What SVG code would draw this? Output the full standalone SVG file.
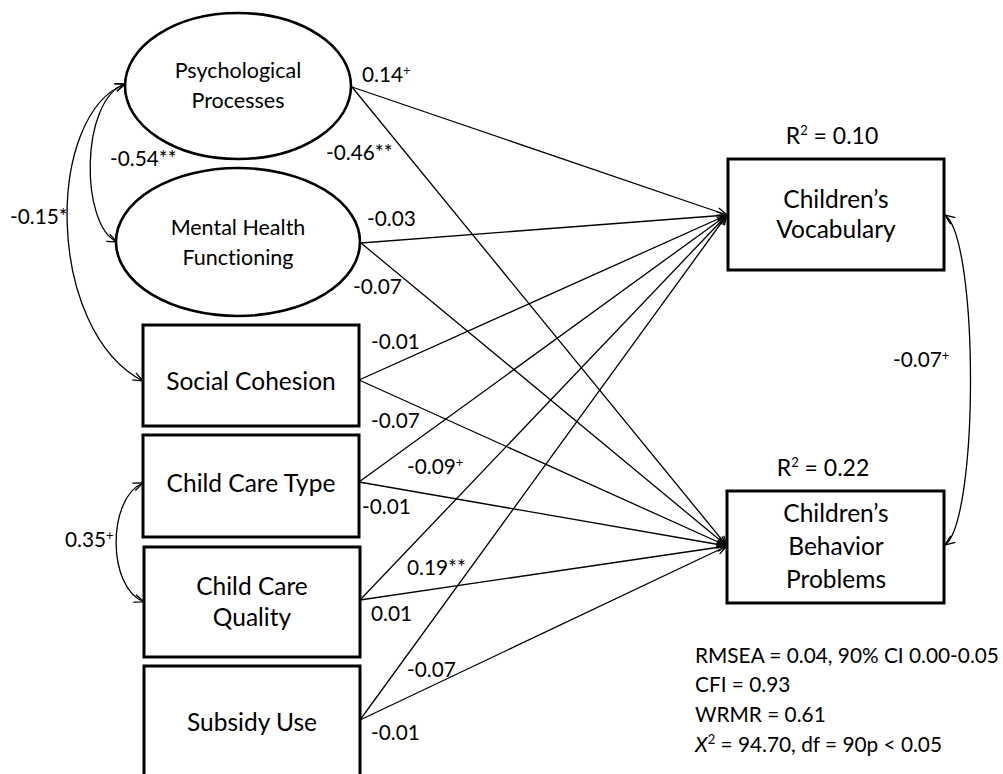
<svg xmlns="http://www.w3.org/2000/svg" width="1003" height="774" viewBox="0 0 1003 774">
<style>
  text { font-family: Lato, "Liberation Sans", sans-serif; fill: #000; font-variant-ligatures: none; }
  .node { fill: #fff; stroke: #000; stroke-width: 3; }
  .ell { fill: #fff; stroke: #000; stroke-width: 2.6; }
  .nt { font-size: 24.5px; text-anchor: middle; }
  .et { font-size: 21.5px; text-anchor: middle; }
  .lbl { font-size: 20.8px; }
  .fit { font-size: 20.8px; }
  .r2 { font-size: 23px; text-anchor: middle; }
  .edge { fill: none; stroke: #000; stroke-width: 1.3; marker-end: url(#arr); }
  .cov { fill: none; stroke: #000; stroke-width: 1.3; marker-start: url(#arr); marker-end: url(#arr); }
  .sup { font-size: 13px; }
</style>
<defs>
  <marker id="arr" viewBox="0 0 12 10" refX="11" refY="5" markerWidth="12" markerHeight="10" orient="auto-start-reverse" markerUnits="userSpaceOnUse">
    <path d="M1,1 L11,5 L1,9" fill="none" stroke="#000" stroke-width="1.3"/>
  </marker>
</defs>
<rect width="1003" height="774" fill="#fff"/>

<g id="connectors">
  <path class="edge" d="M352,87 L727,215"/>
  <path class="edge" d="M361,243 L727,215"/>
  <path class="edge" d="M359,380 L727,215"/>
  <path class="edge" d="M359,482 L727,215"/>
  <path class="edge" d="M360,600 L727,215"/>
  <path class="edge" d="M360,720 L727,215"/>
  <path class="edge" d="M352,87 L727,546"/>
  <path class="edge" d="M361,243 L727,546"/>
  <path class="edge" d="M359,380 L727,546"/>
  <path class="edge" d="M359,482 L727,546"/>
  <path class="edge" d="M360,600 L727,546"/>
  <path class="edge" d="M360,720 L727,546"/>
  <path class="cov" d="M125,84 C80,100 80,225 117,242"/>
  <path class="cov" d="M125,84 C45,115 45,330 143,381"/>
  <path class="cov" d="M143,483 C107,498 107,588 144,602"/>
  <path class="cov" d="M945,215 C979,240 979,520 945,545"/>
</g>

<g id="psych">
  <ellipse class="ell" cx="238" cy="86" rx="113" ry="73"/>
  <text class="et" x="238" y="78">Psychological</text>
  <text class="et" x="238" y="108">Processes</text>
</g>
<g id="mental">
  <ellipse class="ell" cx="238" cy="242" rx="122" ry="74"/>
  <text class="et" x="238" y="235">Mental Health</text>
  <text class="et" x="238" y="265">Functioning</text>
</g>
<g id="social">
  <rect class="node" x="143" y="325" width="216" height="101"/>
  <text class="nt" x="251" y="390">Social Cohesion</text>
</g>
<g id="cctype">
  <rect class="node" x="143" y="435" width="216" height="102"/>
  <text class="nt" x="251" y="492">Child Care Type</text>
</g>
<g id="ccquality">
  <rect class="node" x="144" y="547" width="216" height="110"/>
  <text class="nt" x="252" y="595">Child Care</text>
  <text class="nt" x="252" y="626">Quality</text>
</g>
<g id="subsidy">
  <rect class="node" x="144" y="666" width="216" height="120"/>
  <text class="nt" x="252" y="731">Subsidy Use</text>
</g>
<g id="vocab">
  <rect class="node" x="728" y="159" width="216" height="111"/>
  <text class="nt" x="836" y="208">Children’s</text>
  <text class="nt" x="836" y="238">Vocabulary</text>
  <text class="r2" x="832" y="144">R<tspan class="sup" dy="-9">2</tspan><tspan dy="9"> = 0.10</tspan></text>
</g>
<g id="behavior">
  <rect class="node" x="727" y="491" width="217" height="112"/>
  <text class="nt" x="836" y="522">Children’s</text>
  <text class="nt" x="836" y="555">Behavior</text>
  <text class="nt" x="836" y="588">Problems</text>
  <text class="r2" x="823" y="476">R<tspan class="sup" dy="-9">2</tspan><tspan dy="9"> = 0.22</tspan></text>
</g>

<g id="labels">
  <text class="lbl" x="362" y="82">0.14<tspan class="sup" dy="-7">+</tspan></text>
  <text class="lbl" x="326" y="160">-0.46**</text>
  <text class="lbl" x="110" y="166">-0.54**</text>
  <text class="lbl" x="10" y="224">-0.15*</text>
  <text class="lbl" x="367" y="226">-0.03</text>
  <text class="lbl" x="353" y="294">-0.07</text>
  <text class="lbl" x="371" y="349">-0.01</text>
  <text class="lbl" x="371" y="428">-0.07</text>
  <text class="lbl" x="407" y="474">-0.09<tspan class="sup" dy="-7">+</tspan></text>
  <text class="lbl" x="362" y="514">-0.01</text>
  <text class="lbl" x="65" y="547">0.35<tspan class="sup" dy="-7">+</tspan></text>
  <text class="lbl" x="407" y="575">0.19**</text>
  <text class="lbl" x="371" y="621">0.01</text>
  <text class="lbl" x="407" y="677">-0.07</text>
  <text class="lbl" x="371" y="740">-0.01</text>
  <text class="lbl" x="893" y="367">-0.07<tspan class="sup" dy="-7">+</tspan></text>
</g>

<g id="fit">
  <text class="fit" x="695" y="663">RMSEA = 0.04, 90% CI 0.00-0.05</text>
  <text class="fit" x="695" y="692">CFI = 0.93</text>
  <text class="fit" x="695" y="722">WRMR = 0.61</text>
  <text class="fit" x="695" y="752"><tspan font-style="italic">X</tspan><tspan class="sup" dy="-8">2</tspan><tspan dy="8"> = 94.70, df = 90p &lt; 0.05</tspan></text>
</g>
</svg>
